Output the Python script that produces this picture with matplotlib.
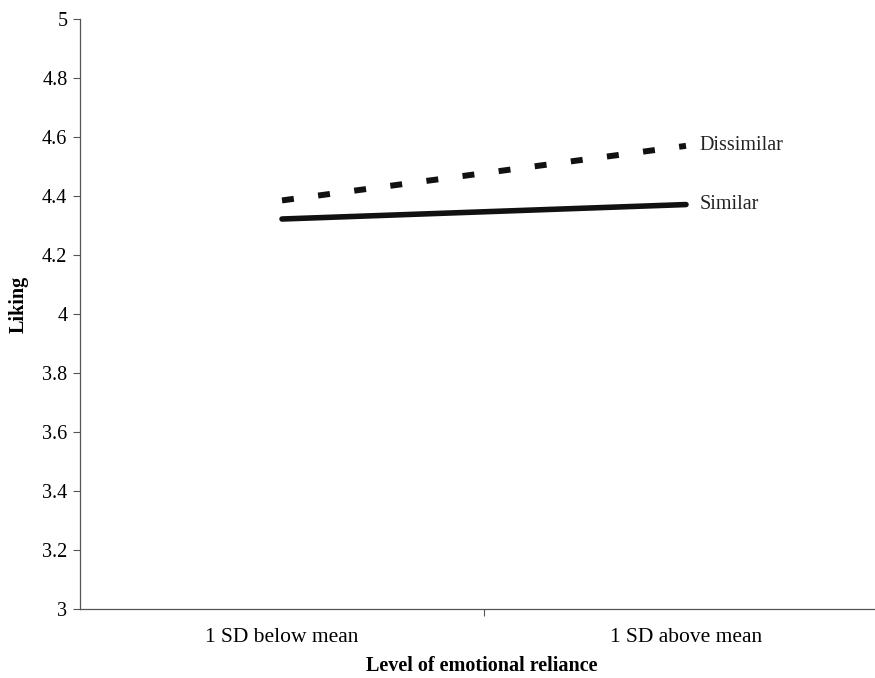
import matplotlib
matplotlib.use('Agg')
import matplotlib.pyplot as plt
import numpy as np

plt.rcParams['font.family'] = ['Liberation Serif', 'DejaVu Serif']

categories = ['1 SD below mean', '1 SD above mean']
similar = [4.322, 4.371]
dissimilar = [4.385, 4.570]
series_labels = ['Similar', 'Dissimilar']
y_ticks = [3, 3.2, 3.4, 3.6, 3.8, 4, 4.2, 4.4, 4.6, 4.8, 5]
y_tick_labels = ['3', '3.2', '3.4', '3.6', '3.8', '4', '4.2', '4.4', '4.6', '4.8', '5']

fig = plt.figure(figsize=(8.75, 6.78), dpi=100)
ax = fig.add_axes([80 / 875, 69 / 678, 808 / 875, 590 / 678])

x = np.array([0.5, 1.5])
ax.plot(x, similar, color='#111111', linewidth=4.0, solid_capstyle='round')
ax.plot(x, dissimilar, color='#111111', linewidth=4.3, dashes=(2.0, 4.1))

for vals, lab in zip([similar, dissimilar], series_labels):
	ax.annotate(lab, xy=(x[-1], vals[-1]), xytext=(10, 0), textcoords='offset points',
				va='center', ha='left', fontsize=14.5, color='#222222')

ax.set_xlim(0, 2)
ax.set_ylim(3, 5)
ax.set_yticks(y_ticks)
ax.set_yticklabels(y_tick_labels, fontsize=14.5)
ax.set_xticks([1])
ax.set_xticklabels([''])
ax.set_xticks(x, minor=True)
ax.set_xticklabels(categories, minor=True, fontsize=15.5)
ax.tick_params(axis='x', which='minor', length=0, pad=14)
ax.tick_params(axis='x', which='major', length=5, width=0.8, color='#555555')
ax.tick_params(axis='y', length=5, width=0.8, color='#555555', pad=4)

ax.spines['right'].set_visible(False)
ax.spines['top'].set_visible(False)
for s in ['left', 'bottom']:
	ax.spines[s].set_color('#555555')
	ax.spines[s].set_linewidth(0.9)

ax.set_xlabel('Level of emotional reliance', fontsize=14.5, fontweight='bold')
ax.xaxis.label.set_va('center')
ax.xaxis.set_label_coords(402 / 808, -57 / 590)
ax.set_ylabel('Liking', fontsize=14.5, fontweight='bold')
ax.yaxis.label.set_va('center')
ax.yaxis.set_label_coords(-61 / 808, 305 / 590)

fig.savefig('out.png', dpi=100)
